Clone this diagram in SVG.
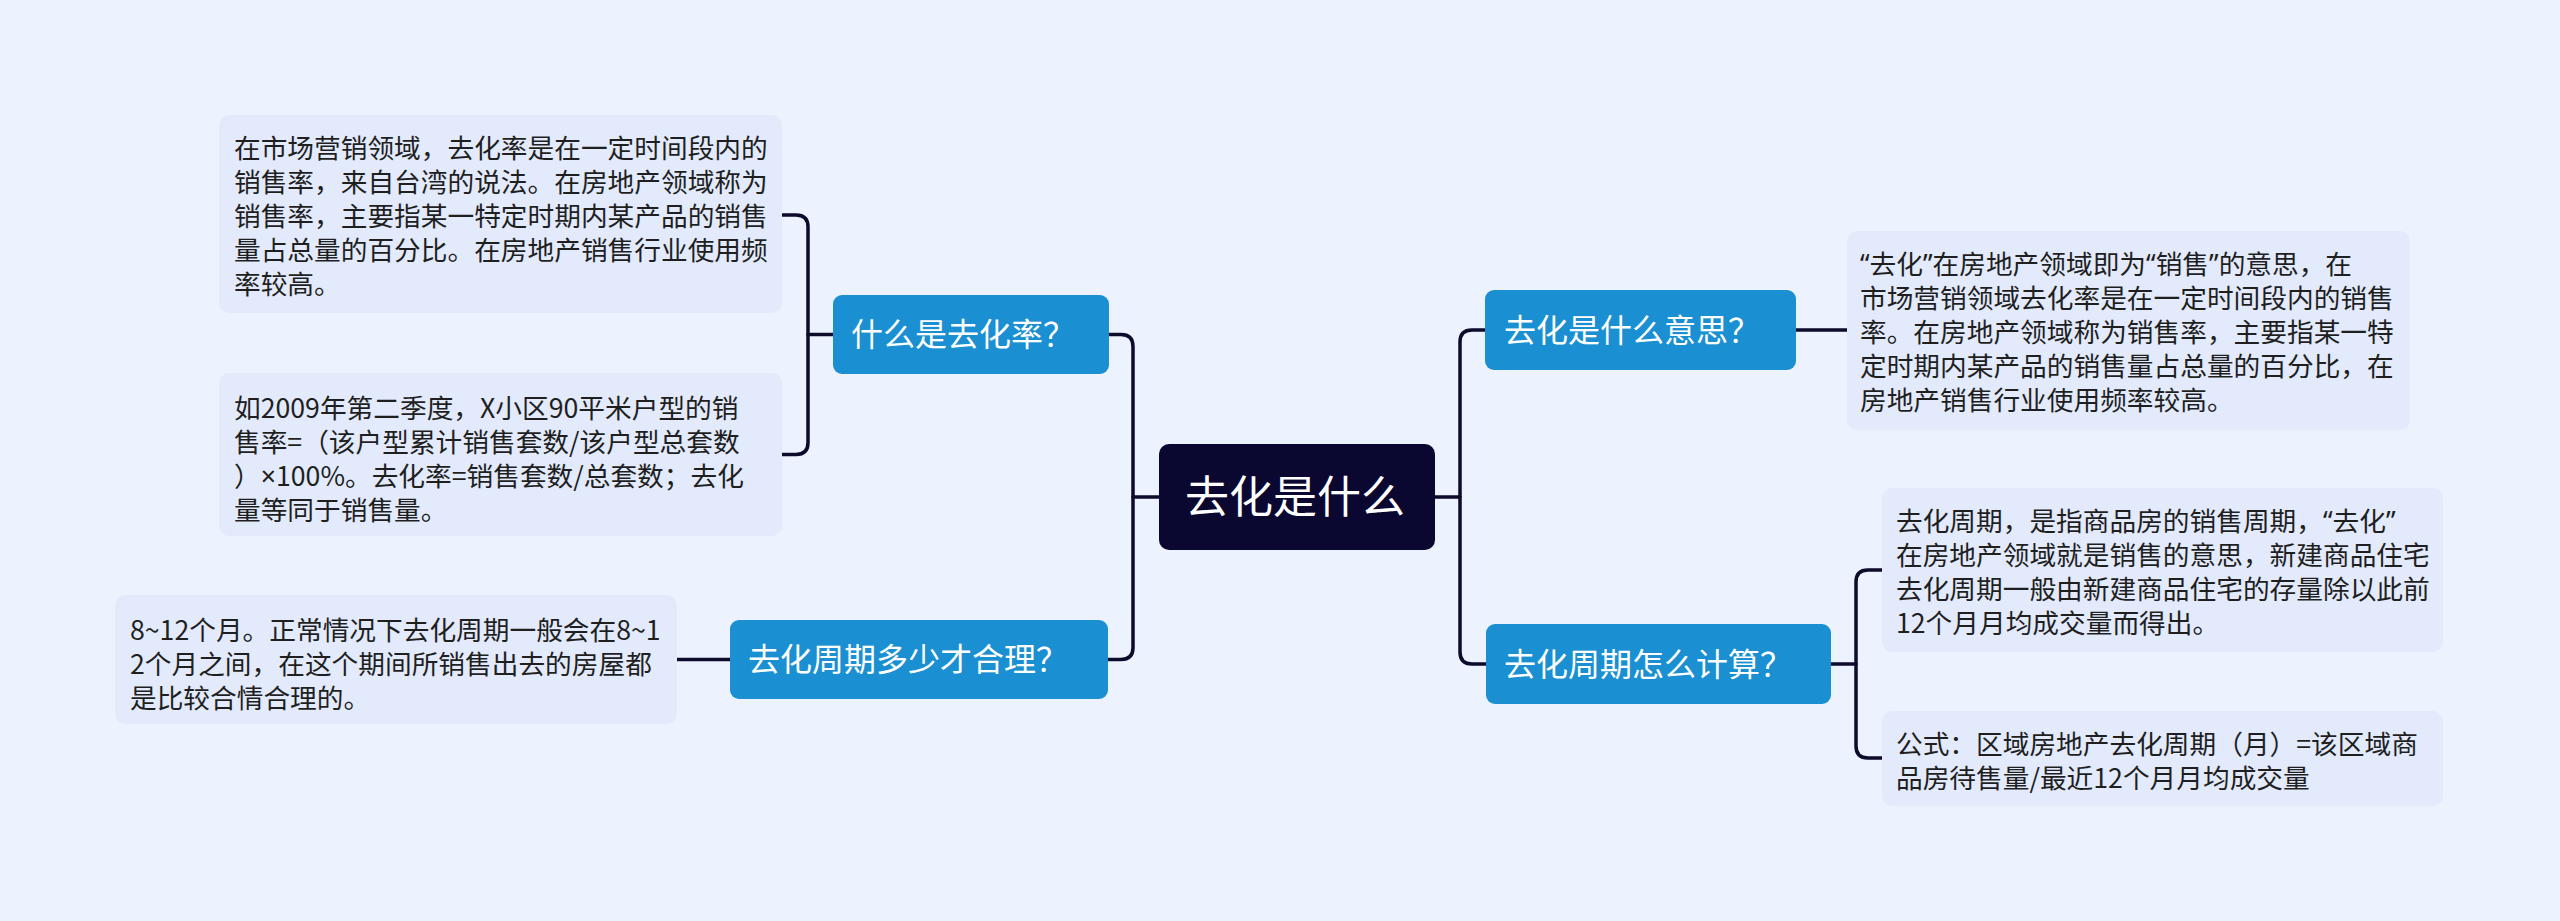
<svg xmlns="http://www.w3.org/2000/svg" width="2560" height="921" viewBox="0 0 2560 921">
<style>
.bg{fill:#edf3fe}
.detail{fill:#e2eafb}
.topic{fill:#1a8fd1}
.root{fill:#0a0730}
.dt{font-family:"Noto Sans CJK SC","Noto Sans",sans-serif;font-size:26.7px;fill:#1f1f1f}
.lat{font-family:"Noto Sans","Liberation Sans",sans-serif}
.tt{font-family:"Noto Sans CJK SC","Noto Sans",sans-serif;font-size:32px;fill:#ffffff}
.rt{font-family:"Noto Sans CJK SC","Noto Sans",sans-serif;font-size:44px;fill:#ffffff}
.conn path{fill:none;stroke:#0c0b2c;stroke-width:3.5;stroke-linecap:round}
</style>
<rect class="bg" x="0" y="0" width="2560" height="921"/>
<g class="conn" id="connectors">
<path d="M1159,497 H1133"/>
<path d="M1109,334.5 H1121 Q1133,334.5 1133,346.5 V647.5 Q1133,659.5 1121,659.5 H1108"/>
<path d="M1435,497 H1460"/>
<path d="M1485,330 H1472 Q1460,330 1460,342 V652 Q1460,664 1472,664 H1486"/>
<path d="M833,334.5 H808"/>
<path d="M782,215 H796 Q808,215 808,227 V442.5 Q808,454.5 796,454.5 H782"/>
<path d="M730,659.5 H677"/>
<path d="M1796,330 H1847"/>
<path d="M1831,664 H1856"/>
<path d="M1882,570 H1868 Q1856,570 1856,582 V746 Q1856,758 1868,758 H1882"/>
</g>
<g id="root">
<rect class="root" x="1159" y="444" width="276" height="106" rx="10"/>
<text class="rt" x="1185" y="513">去化是什么</text>
</g>
<g id="topic1">
<rect class="topic" x="833" y="295" width="276" height="79" rx="9"/>
<text class="tt" x="851" y="346">什么是去化率？</text>
</g>
<g id="topic2">
<rect class="topic" x="730" y="620" width="378" height="79" rx="9"/>
<text class="tt" x="748" y="671">去化周期多少才合理？</text>
</g>
<g id="topic3">
<rect class="topic" x="1485" y="290" width="311" height="80" rx="9"/>
<text class="tt" x="1504" y="341.5">去化是什么意思？</text>
</g>
<g id="topic4">
<rect class="topic" x="1486" y="624" width="345" height="80" rx="9"/>
<text class="tt" x="1504" y="675.5">去化周期怎么计算？</text>
</g>
<g id="detail1">
<rect class="detail" x="219" y="115" width="563" height="198" rx="10"/>
<text class="dt" x="234" y="157.6">在市场营销领域，去化率是在一定时间段内的</text>
<text class="dt" x="234" y="191.6">销售率，来自台湾的说法。在房地产领域称为</text>
<text class="dt" x="234" y="225.6">销售率，主要指某一特定时期内某产品的销售</text>
<text class="dt" x="234" y="259.6">量占总量的百分比。在房地产销售行业使用频</text>
<text class="dt" x="234" y="293.6">率较高。</text>
</g>
<g id="detail2">
<rect class="detail" x="219" y="373" width="563" height="163" rx="10"/>
<text class="dt" x="234" y="417.6">如2009年第二季度，X小区90平米户型的销</text>
<text class="dt" x="234" y="451.6">售率=（该户型累计销售套数/该户型总套数</text>
<text class="dt" x="234" y="485.6">）<tspan class="lat">×</tspan>100%。去化率=销售套数/总套数；去化</text>
<text class="dt" x="234" y="519.6">量等同于销售量。</text>
</g>
<g id="detail3">
<rect class="detail" x="115" y="595" width="562" height="129" rx="10"/>
<text class="dt" x="130" y="639.6">8~12个月。正常情况下去化周期一般会在8~1</text>
<text class="dt" x="130" y="673.6">2个月之间，在这个期间所销售出去的房屋都</text>
<text class="dt" x="130" y="707.6">是比较合情合理的。</text>
</g>
<g id="detail4">
<rect class="detail" x="1847" y="231" width="563" height="199" rx="10"/>
<text class="dt" x="1860" y="273.6"><tspan class="lat">“</tspan>去化<tspan class="lat">”</tspan>在房地产领域即为<tspan class="lat">“</tspan>销售<tspan class="lat">”</tspan>的意思，在</text>
<text class="dt" x="1860" y="307.6">市场营销领域去化率是在一定时间段内的销售</text>
<text class="dt" x="1860" y="341.6">率。在房地产领域称为销售率，主要指某一特</text>
<text class="dt" x="1860" y="375.6">定时期内某产品的销售量占总量的百分比，在</text>
<text class="dt" x="1860" y="409.6">房地产销售行业使用频率较高。</text>
</g>
<g id="detail5">
<rect class="detail" x="1882" y="488" width="561" height="164" rx="10"/>
<text class="dt" x="1896" y="530.6">去化周期，是指商品房的销售周期，<tspan class="lat">“</tspan>去化<tspan class="lat">”</tspan></text>
<text class="dt" x="1896" y="564.6">在房地产领域就是销售的意思，新建商品住宅</text>
<text class="dt" x="1896" y="598.6">去化周期一般由新建商品住宅的存量除以此前</text>
<text class="dt" x="1896" y="632.6">12个月月均成交量而得出。</text>
</g>
<g id="detail6">
<rect class="detail" x="1882" y="711" width="561" height="95" rx="10"/>
<text class="dt" x="1896" y="753.6">公式：区域房地产去化周期（月）=该区域商</text>
<text class="dt" x="1896" y="787.6">品房待售量/最近12个月月均成交量</text>
</g>
</svg>
